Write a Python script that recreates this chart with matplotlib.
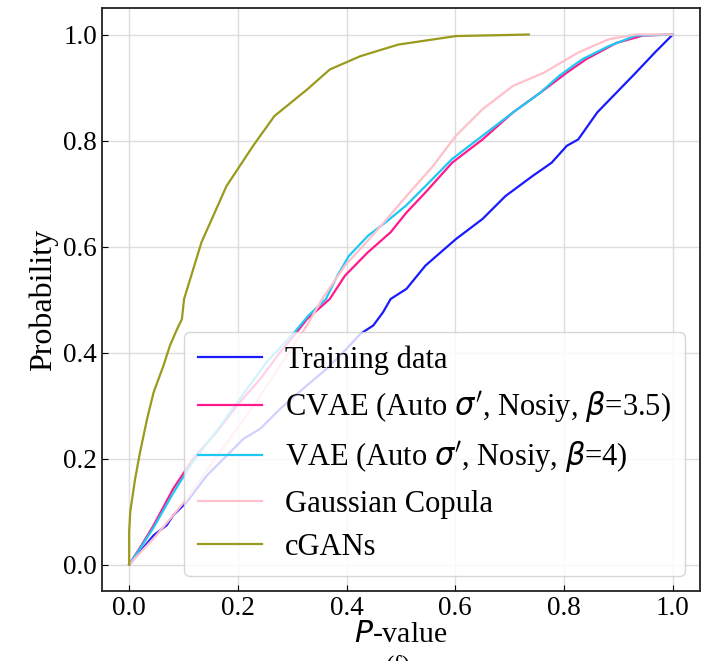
import matplotlib
matplotlib.use('Agg')
import matplotlib.pyplot as plt

train_x = [0.0, 0.020, 0.045, 0.069, 0.081, 0.106, 0.143, 0.180, 0.210, 0.241, 0.278, 0.327, 0.363,
           0.400, 0.425, 0.449, 0.467, 0.481, 0.510, 0.545, 0.601, 0.650, 0.692, 0.742, 0.777, 0.805,
           0.826, 0.861, 0.896, 0.932, 0.967, 1.0]
train_y = [0.0, 0.024, 0.055, 0.074, 0.093, 0.118, 0.168, 0.206, 0.237, 0.256, 0.294, 0.338, 0.369,
           0.407, 0.435, 0.451, 0.476, 0.501, 0.520, 0.564, 0.614, 0.652, 0.695, 0.733, 0.758, 0.790,
           0.802, 0.853, 0.890, 0.928, 0.966, 1.0]

cvae_x = [0.0, 0.020, 0.045, 0.081, 0.118, 0.161, 0.198, 0.241, 0.278, 0.308, 0.327, 0.369, 0.397,
          0.439, 0.481, 0.510, 0.545, 0.594, 0.650, 0.706, 0.756, 0.805, 0.840, 0.896, 0.945, 1.0]
cvae_y = [0.0, 0.032, 0.074, 0.143, 0.200, 0.250, 0.300, 0.350, 0.401, 0.438, 0.463, 0.501, 0.545,
          0.589, 0.627, 0.664, 0.702, 0.758, 0.802, 0.853, 0.890, 0.928, 0.953, 0.984, 0.998, 1.0]

vae_x = [0.0, 0.020, 0.045, 0.081, 0.118, 0.161, 0.198, 0.253, 0.304, 0.330, 0.362, 0.383, 0.404,
         0.439, 0.471, 0.509, 0.545, 0.594, 0.650, 0.706, 0.756, 0.791, 0.833, 0.882, 0.932, 1.0]
vae_y = [0.0, 0.030, 0.070, 0.135, 0.195, 0.252, 0.305, 0.382, 0.438, 0.470, 0.501, 0.545, 0.582,
         0.620, 0.645, 0.677, 0.714, 0.765, 0.809, 0.853, 0.890, 0.922, 0.953, 0.978, 0.998, 1.0]

copula_x = [0.0, 0.050, 0.106, 0.167, 0.229, 0.290, 0.327, 0.355, 0.397, 0.453, 0.510, 0.559, 0.601,
            0.650, 0.706, 0.763, 0.826, 0.882, 0.932, 1.0]
copula_y = [0.0, 0.055, 0.124, 0.212, 0.300, 0.394, 0.451, 0.501, 0.564, 0.627, 0.695, 0.752, 0.809,
            0.859, 0.903, 0.928, 0.966, 0.991, 1.0, 1.0]

cgan_x = [0.0, 0.0, 0.002, 0.011, 0.020, 0.033, 0.045, 0.063, 0.075, 0.088, 0.097, 0.101, 0.133,
          0.179, 0.228, 0.267, 0.327, 0.369, 0.425, 0.495, 0.601, 0.735]
cgan_y = [0.0, 0.062, 0.100, 0.162, 0.212, 0.275, 0.325, 0.375, 0.413, 0.444, 0.463, 0.501, 0.608,
          0.714, 0.790, 0.846, 0.896, 0.934, 0.959, 0.981, 0.997, 1.0]

plt.rcParams['font.family'] = ['Liberation Serif', 'DejaVu Sans']
plt.rcParams['mathtext.fontset'] = 'dejavusans'

fig = plt.figure(figsize=(7.15, 6.61), dpi=100)
ax = fig.add_axes([102 / 715, 1 - 591 / 661, 598 / 715, 583 / 661])

ax.plot(train_x, train_y, color='#1a1aff', lw=1.6, label='Training data')
ax.plot(cvae_x, cvae_y, color='#ff1a8c', lw=1.6, label="CVAE (Auto $\\sigma'$, Nosiy, $\\beta$=3.5)")
ax.plot(vae_x, vae_y, color='#1ec8f5', lw=1.6, label="VAE (Auto $\\sigma'$, Nosiy, $\\beta$=4)")
ax.plot(copula_x, copula_y, color='#ffc0cb', lw=1.6, label='Gaussian Copula')
ax.plot(cgan_x, cgan_y, color='#9a9a1e', lw=1.6, label='cGANs')

ax.set_xlim(-0.05, 1.05)
ax.set_ylim(-0.05, 1.05)
ax.set_xticks([0.0, 0.2, 0.4, 0.6, 0.8, 1.0])
ax.set_yticks([0.0, 0.2, 0.4, 0.6, 0.8, 1.0])
ax.tick_params(direction='in', labelsize=19.5, length=4)
ax.grid(True, color='#dddddd', lw=1)
for s in ax.spines.values():
    s.set_linewidth(1.3)
    s.set_color('#222222')

ax.set_xlabel('$P$-value', fontsize=21.5, labelpad=1)
ax.set_ylabel('Probability', fontsize=23, labelpad=4)
ax.legend(loc='lower right', fontsize=22, handlelength=2.1, labelspacing=0.47,
          handletextpad=0.75, borderaxespad=0.5, borderpad=0.45)

fig.text(398 / 715, 1 - 656 / 661, '(f)', fontsize=18, ha='center', va='top')

fig.savefig('out.png', dpi=100)
